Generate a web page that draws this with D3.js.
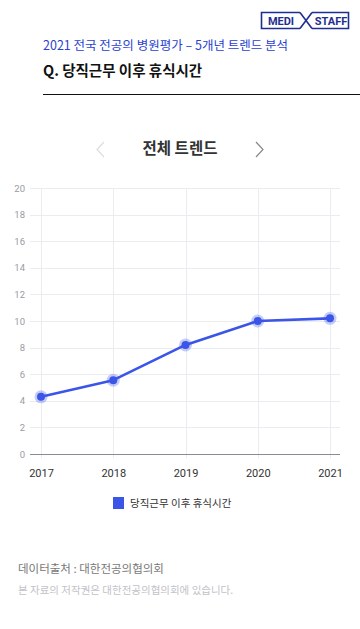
<!DOCTYPE html>
<html><head><meta charset="utf-8">
<script src="https://cdn.jsdelivr.net/npm/d3@7"></script>
<style>
html,body{margin:0;padding:0;background:#fff;}
body{width:360px;height:629px;overflow:hidden;font-family:"Noto Sans CJK KR","Noto Sans",sans-serif;}
</style></head>
<body><svg id="c" width="360" height="629"></svg>
<script>
const years = ["2017","2018","2019","2020","2021"];
const values = [4.3, 5.55, 8.2, 10.0, 10.2];
const yTicks = [0,2,4,6,8,10,12,14,16,18,20];
const seriesName = "당직근무 이후 휴식시간";
const headerTitle = "2021 전국 전공의 병원평가 – 5개년 트렌드 분석";
const questionTitle = "Q. 당직근무 이후 휴식시간";
const trendTitle = "전체 트렌드";
const sourceText = "데이터출처 : 대한전공의협의회";
const copyrightText = "본 자료의 저작권은 대한전공의협의회에 있습니다.";

const svg = d3.select("#c");
const font = '"Noto Sans CJK KR","Noto Sans",sans-serif';
const navy = "#1f2f8f";
const blue = "#3b55e8";

// Logo
const logo = svg.append("g").attr("fill","none").attr("stroke",navy).attr("stroke-width",1.6);
logo.append("path").attr("d","M300,12.5 L261.5,12.5 L261.5,28.5 L300,28.5");
logo.append("path").attr("d","M300,12.5 L312,28.5 M300,28.5 L312,12.5");
logo.append("path").attr("d","M312,12.5 L348.5,12.5 L348.5,28.5 L312,28.5");
svg.append("text").attr("x",281).attr("y",24.8).attr("text-anchor","middle")
  .attr("font-family","Roboto,Arial,sans-serif").attr("font-weight",700).attr("font-size",11).attr("fill",navy).text("MEDI");
svg.append("text").attr("x",331).attr("y",24.8).attr("text-anchor","middle")
  .attr("font-family","Roboto,Arial,sans-serif").attr("font-weight",700).attr("font-size",11).attr("fill",navy).text("STAFF");

// Header
svg.append("text").attr("x",43).attr("y",50).attr("font-family",font).attr("font-size",12.5)
  .attr("fill","#2a3fd1").text(headerTitle);
svg.append("text").attr("x",43).attr("y",76).attr("font-family",font).attr("font-size",14.5)
  .attr("font-weight",700).attr("fill","#111").text(questionTitle);
svg.append("line").attr("x1",43).attr("x2",360).attr("y1",94.5).attr("y2",94.5).attr("stroke","#111").attr("stroke-width",1);

// Trend title and arrows
svg.append("text").attr("x",180).attr("y",154).attr("text-anchor","middle").attr("font-family",font)
  .attr("font-size",15.5).attr("font-weight",700).attr("fill","#333").text(trendTitle);
svg.append("path").attr("d","M104,142 L97,149.5 L104,157").attr("fill","none").attr("stroke","#ddd").attr("stroke-width",1.2);
svg.append("path").attr("d","M256,142 L263,149.5 L256,157").attr("fill","none").attr("stroke","#888").attr("stroke-width",1.2);

// Chart
const x = d3.scalePoint().domain(years).range([41,330]);
const y = d3.scaleLinear().domain([0,20]).range([454,188]);

const grid = svg.append("g");
grid.selectAll("line.h").data(yTicks).join("line")
  .attr("x1",30).attr("x2",340).attr("y1",d=>Math.round(y(d))+0.5).attr("y2",d=>Math.round(y(d))+0.5)
  .attr("stroke",d=>d===0?"#8a8a95":"#ebebf0").attr("stroke-width",1);
grid.selectAll("line.v").data(years).join("line")
  .attr("x1",d=>Math.round(x(d))+0.5).attr("x2",d=>Math.round(x(d))+0.5).attr("y1",188).attr("y2",458)
  .attr("stroke","#ebebf0").attr("stroke-width",1);
grid.selectAll("line.h0").data([0]).join("line")
  .attr("x1",30).attr("x2",340).attr("y1",d=>Math.round(y(d))+0.5).attr("y2",d=>Math.round(y(d))+0.5)
  .attr("stroke","#8a8a95").attr("stroke-width",1);

const yAxis = d3.axisLeft(y).tickValues(yTicks).tickSize(0).tickPadding(0);
const ya = svg.append("g").attr("transform","translate(25,0)").call(yAxis);
ya.select(".domain").remove();
ya.selectAll("text").attr("font-family","Roboto,Arial,sans-serif").attr("font-size",9.5).attr("fill","#9a9aa3");

const xAxis = d3.axisBottom(x).tickSize(0).tickPadding(0);
const xa = svg.append("g").attr("transform","translate(0,469.5)").call(xAxis);
xa.select(".domain").remove();
xa.selectAll("text").attr("font-family","Roboto,Arial,sans-serif").attr("font-size",11).attr("fill","#333");

const line = d3.line().x((d,i)=>x(years[i])).y(d=>y(d));
svg.append("path").datum(values).attr("d",line).attr("fill","none").attr("stroke",blue).attr("stroke-width",2.6).attr("stroke-linejoin","round");
svg.selectAll("circle.halo").data(values).join("circle")
  .attr("cx",(d,i)=>x(years[i])).attr("cy",d=>y(d)).attr("r",6.5).attr("fill",blue).attr("fill-opacity",0.3);
svg.selectAll("circle.pt").data(values).join("circle")
  .attr("cx",(d,i)=>x(years[i])).attr("cy",d=>y(d)).attr("r",4).attr("fill",blue);

// Legend
svg.append("rect").attr("x",113).attr("y",497).attr("width",11).attr("height",12).attr("fill",blue);
svg.append("text").attr("x",130).attr("y",507).attr("font-family",font).attr("font-size",10.5).attr("fill","#333").text(seriesName);

// Footer
svg.append("text").attr("x",18).attr("y",573).attr("font-family",font).attr("font-size",11.5).attr("fill","#777").text(sourceText);
svg.append("text").attr("x",18).attr("y",594).attr("font-family",font).attr("font-size",10.5).attr("fill","#c2c2c8").text(copyrightText);
</script></body></html>
